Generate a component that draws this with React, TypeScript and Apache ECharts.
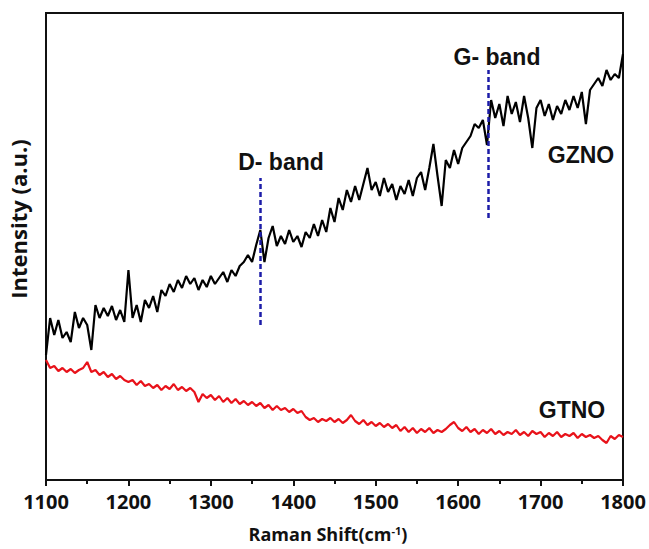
import React, { useEffect, useRef } from "react";
import * as echarts from "echarts";

const xStart = 1100;
const xStep = 5;

const gzno = [
  125,162,145,160,142,148,138,168,152,162,
  155,130,175,162,172,164,174,160,170,158,
  210,162,175,158,180,172,184,168,190,184,
  196,188,200,192,204,196,202,190,200,193,
  204,196,202,208,198,210,204,214,218,225,
  218,235,250,218,242,254,234,244,236,250,
  238,244,233,248,242,256,244,260,248,272,
  258,282,270,290,278,294,280,296,312,290,
  298,284,302,288,296,280,294,286,300,284,
  302,308,290,312,336,304,274,320,312,330,
  316,332,338,344,356,352,360,335,380,362,
  376,354,384,366,378,358,384,362,332,372,
  380,364,376,360,374,366,380,370,384,372,
  388,356,390,396,402,394,410,400,406,402,
  426,
];

const gtno = [
  120,112,114,109,112,108,111,107,110,112,
  118,108,110,105,108,103,106,101,104,100,
  98,100,95,99,94,96,92,95,90,94,
  91,96,90,93,89,92,88,78,86,82,
  85,80,84,78,82,77,81,76,79,75,
  78,74,77,72,75,70,74,70,72,68,
  71,67,69,63,60,62,58,61,59,62,
  58,61,57,60,65,59,56,60,55,58,
  54,57,53,56,52,55,49,53,48,52,
  47,51,48,52,47,50,48,51,55,58,
  52,49,53,48,51,46,50,47,51,46,
  49,45,48,46,50,45,48,44,49,46,
  48,43,47,44,48,43,46,44,47,42,
  46,43,45,42,44,40,37,44,41,45,
  43,
];

const bandPositions = [1360, 1637];
const bandLabels = ["D- band", "G- band"];
const bandLineRanges = [[155, 302], [262, 410]];
const seriesLabels = ["GZNO", "GTNO"];
const xTitle = "Raman Shift(cm{sup|-1})";
const yTitle = "Intensity (a.u.)";

const axisFont = "'Open Sans', Lato, sans-serif";

export default function App() {
  const ref = useRef<HTMLDivElement>(null);
  useEffect(() => {
    if (!ref.current) return;
    const chart = echarts.init(ref.current, null, { renderer: "svg" });
    const toPairs = (arr: number[]) => arr.map((v, i) => [xStart + i * xStep, v]);
    const bandMarkLines = bandPositions.map((x, i) => [
      { coord: [x, bandLineRanges[i][0]] },
      { coord: [x, bandLineRanges[i][1]] },
    ]);
    const labelFont = {
      fontFamily: "'Liberation Sans', Arial, sans-serif",
      fontWeight: "bold" as const,
      fontSize: 23,
      fill: "#111",
    };
    chart.setOption({
      animation: false,
      grid: {
        left: 46,
        right: 26,
        top: 13,
        bottom: 69,
        show: true,
        borderColor: "#111",
        borderWidth: 2,
        backgroundColor: "transparent",
      },
      xAxis: {
        type: "value",
        min: 1100,
        max: 1800,
        interval: 100,
        axisLine: { show: true, lineStyle: { color: "#111", width: 2 } },
        axisTick: { show: true, inside: false, length: 6, lineStyle: { color: "#111", width: 2 } },
        minorTick: { show: true, splitNumber: 2, length: 4, lineStyle: { color: "#111", width: 2 } },
        axisLabel: {
          fontFamily: axisFont,
          fontWeight: "bold",
          fontSize: 20,
          color: "#111",
          margin: 11,
          formatter: (v: number) => String(v),
        },
        splitLine: { show: false },
      },
      yAxis: {
        type: "value",
        min: 0,
        max: 467,
        axisLine: { show: true, lineStyle: { color: "#111", width: 2 } },
        axisTick: { show: false },
        axisLabel: { show: false },
        splitLine: { show: false },
      },
      series: [
        {
          name: seriesLabels[0],
          type: "line",
          data: toPairs(gzno),
          showSymbol: false,
          lineStyle: { color: "#000", width: 2.2 },
          z: 3,
          markLine: {
            silent: true,
            symbol: ["none", "none"],
            label: { show: false },
            lineStyle: { color: "#1c1ca8", width: 2.5, type: [5, 3] },
            data: bandMarkLines,
          },
        },
        {
          name: seriesLabels[1],
          type: "line",
          data: toPairs(gtno),
          showSymbol: false,
          lineStyle: { color: "#e8121a", width: 2.2 },
          z: 2,
        },
      ],
      graphic: [
        { type: "text", x: 281, y: 162, style: { ...labelFont, text: bandLabels[0], align: "center", verticalAlign: "middle" } },
        { type: "text", x: 497, y: 57, style: { ...labelFont, text: bandLabels[1], align: "center", verticalAlign: "middle" } },
        { type: "text", x: 581, y: 155, style: { ...labelFont, text: seriesLabels[0], align: "center", verticalAlign: "middle" } },
        { type: "text", x: 572, y: 410, style: { ...labelFont, text: seriesLabels[1], align: "center", verticalAlign: "middle" } },
        {
          type: "text",
          x: 18,
          y: 219,
          rotation: Math.PI / 2,
          style: {
            text: yTitle,
            fontFamily: axisFont,
            fontWeight: "bold",
            fontSize: 22,
            fill: "#111",
            align: "center",
            verticalAlign: "middle",
          },
        },
        {
          type: "text",
          x: 328,
          y: 534,
          style: {
            text: xTitle,
            fontFamily: axisFont,
            fontWeight: "bold",
            fontSize: 18,
            fill: "#111",
            align: "center",
            verticalAlign: "middle",
            rich: {
              sup: {
                fontFamily: axisFont,
                fontWeight: "bold",
                fontSize: 11,
                fill: "#111",
                verticalAlign: "bottom",
                padding: [0, 0, 8, 0],
              },
            },
          },
        },
      ],
    });
    return () => chart.dispose();
  }, []);
  return (
    <div
      ref={ref}
      style={{ position: "fixed", left: 0, top: 0, width: 649, height: 549, background: "#fff" }}
    />
  );
}
